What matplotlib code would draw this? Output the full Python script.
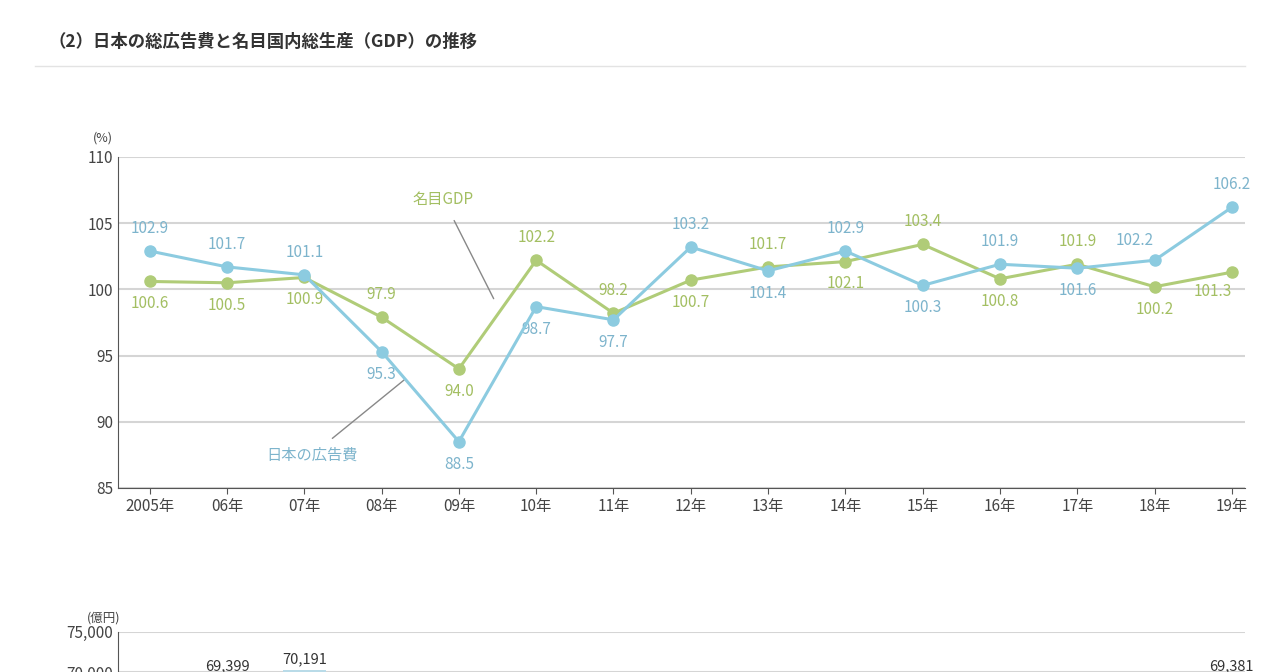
import matplotlib
matplotlib.use("Agg")
import matplotlib.pyplot as plt
from matplotlib.lines import Line2D

plt.rcParams['font.family'] = ['Noto Sans CJK JP', 'DejaVu Sans']

years = ["2005年","06年","07年","08年","09年","10年","11年","12年","13年","14年","15年","16年","17年","18年","19年"]
ad = [102.9,101.7,101.1,95.3,88.5,98.7,97.7,103.2,101.4,102.9,100.3,101.9,101.6,102.2,106.2]
gdp = [100.6,100.5,100.9,97.9,94.0,102.2,98.2,100.7,101.7,102.1,103.4,100.8,101.9,100.2,101.3]
ad_pos = "aaabbbbabababla"
gdp_pos = "bbbabaababababr"
ad_spend = [68235,69399,70191,66926,59222,58427,57096,58913,59762,61522,61710,62880,63907,65300,69381]

blue, green = "#8ccbe0", "#b0cc78"
bt, gt = "#7db4cc", "#a3bf62"
W, H = 1280, 672
fig = plt.figure(figsize=(W/100, H/100), dpi=100)
fig.text(48/W, 1-42/H, "（2）日本の総広告費と名目国内総生産（GDP）の推移", fontsize=12.5, weight='bold', color="#333333", va='center')
fig.add_artist(Line2D([35/W, 1245/W], [1-66/H]*2, color="#e3e3e3", lw=1))

ax = fig.add_axes([118/W, 1-488/H, (1245-118)/W, (488-157)/H])
x = list(range(len(years)))
ax.set_xlim(-0.41, 14.17)
ax.set_ylim(85, 110)
ax.set_yticks(range(85, 111, 5))
ax.grid(axis='y', color="#d5d5d5", lw=1.5)
ax.set_axisbelow(True)
for s in ['top', 'right']:
    ax.spines[s].set_visible(False)
for s in ['left', 'bottom']:
    ax.spines[s].set_color("#555555")
ax.set_xticks(x)
ax.set_xticklabels(years, fontsize=11, color="#444444")
ax.tick_params(axis='y', labelsize=11, labelcolor="#444444", length=0)
ax.tick_params(axis='x', length=4, color="#555555")
ax.plot(x, gdp, color=green, lw=2.2, marker='o', ms=8, zorder=3)
ax.plot(x, ad, color=blue, lw=2.2, marker='o', ms=8, zorder=4)
ax.text(-0.6, 111.2, "(%)", fontsize=9, color="#444444", ha='center')

def lab(vals, pos, col):
    for i, (v, p) in enumerate(zip(vals, pos)):
        if p == 'a':
            ax.annotate(f"{v:.1f}", (i, v), xytext=(0, 10), textcoords='offset points', ha='center', va='bottom', color=col, fontsize=11)
        elif p == 'b':
            ax.annotate(f"{v:.1f}", (i, v), xytext=(0, -10), textcoords='offset points', ha='center', va='top', color=col, fontsize=11)
        elif p == 'l':
            ax.annotate(f"{v:.1f}", (i, v), xytext=(-14, 8), textcoords='offset points', ha='center', va='bottom', color=col, fontsize=11)
        else:
            ax.annotate(f"{v:.1f}", (i, v), xytext=(-14, -8), textcoords='offset points', ha='center', va='top', color=col, fontsize=11)
lab(ad, ad_pos, bt)
lab(gdp, gdp_pos, gt)

ax.annotate("名目GDP", xy=(4.45, 99.3), xytext=(3.8, 106.8), color=gt, fontsize=11, ha='center', va='center',
            arrowprops=dict(arrowstyle='-', color="#888888", lw=1, shrinkA=8, shrinkB=0))
ax.annotate("日本の広告費", xy=(3.3, 93.2), xytext=(2.1, 87.5), color=bt, fontsize=11, ha='center', va='center',
            arrowprops=dict(arrowstyle='-', color="#888888", lw=1, shrinkA=6, shrinkB=0))

# lower chart (cut off)
ax2 = fig.add_axes([118/W, -0.30, (1245-118)/W, 0.36])
ax2.set_xlim(-0.41, 14.17)
ax2.set_ylim(45000, 75000)
ax2.set_yticks([70000, 75000])
ax2.set_yticklabels(["70,000", "75,000"], fontsize=11, color="#444444")
ax2.tick_params(length=0)
ax2.set_xticks([])
for s in ['top', 'right', 'bottom']:
    ax2.spines[s].set_visible(False)
ax2.spines['left'].set_color("#555555")
ax2.grid(axis='y', color="#d5d5d5", lw=1.5)
ax2.set_axisbelow(True)
ax2.bar(x, ad_spend, width=0.55, color="#b9dbe8")
for i, v in enumerate(ad_spend):
    if v > 69000:
        ax2.text(i, v + 500, f"{v:,}", ha='center', va='bottom', fontsize=10.5, color="#333333")
ax2.text(-0.6, 76300, "(億円)", fontsize=9, color="#444444", ha='center')

fig.savefig("out.png", dpi=100)
